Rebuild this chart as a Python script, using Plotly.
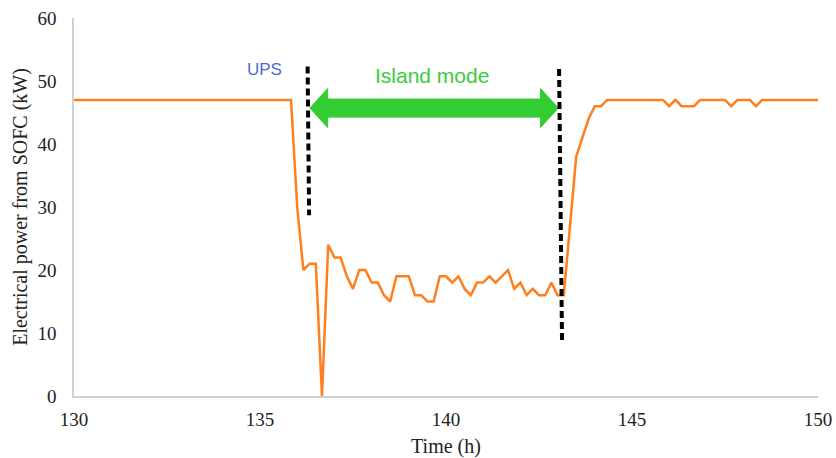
import plotly.graph_objects as go

# Time sampled every 10 minutes from 130 h to 150 h
time_start = 130.0
step_h = 1.0 / 6.0

# Electrical power from SOFC (kW), one value per 10-minute sample
power_kw = [
    47, 47, 47, 47, 47, 47, 47, 47, 47, 47,   # 130.0 - 131.5
    47, 47, 47, 47, 47, 47, 47, 47, 47, 47,   # 131.67 - 133.17
    47, 47, 47, 47, 47, 47, 47, 47, 47, 47,   # 133.33 - 134.83
    47, 47, 47, 47, 47, 47, 30, 20, 21, 21,   # 135.0 - 136.5
    0, 24, 22, 22, 19, 17, 20, 20, 18, 18,    # 136.67 - 138.17
    16, 15, 19, 19, 19, 16, 16, 15, 15, 19,   # 138.33 - 139.83
    19, 18, 19, 17, 16, 18, 18, 19, 18, 19,   # 140.0 - 141.5
    20, 17, 18, 16, 17, 16, 16, 18, 16, 16,   # 141.67 - 143.17
    27, 38, 41, 44, 46, 46, 47, 47, 47, 47,   # 143.33 - 144.83
    47, 47, 47, 47, 47, 47, 46, 47, 46, 46,   # 145.0 - 146.5
    46, 47, 47, 47, 47, 47, 46, 47, 47, 47,   # 146.67 - 148.17
    46, 47, 47, 47, 47, 47, 47, 47, 47, 47,   # 148.33 - 149.83
    47,                                       # 150.0
]
time_h = [time_start + i * step_h for i in range(len(power_kw))]

x_ticks = [130, 135, 140, 145, 150]
y_ticks = [0, 10, 20, 30, 40, 50, 60]

# Annotation anchors (data units)
ups_label = ("UPS", 135.13, 51.9)
island_label = ("Island mode", 139.62, 50.9)
arrow_x = (136.34, 143.02)
arrow_y = 45.7
marker_lines = [((136.28, 52.3), (136.32, 28.7)), ((143.04, 51.9), (143.12, 8.4))]

fig = go.Figure()
fig.add_trace(go.Scatter(
    x=time_h, y=power_kw, mode="lines",
    line=dict(color="#FF7F1E", width=2.5),
    showlegend=False, hoverinfo="skip",
))

# Green double-headed arrow as a filled path
x0, x1 = arrow_x
hl = 0.48      # head length (h)
hh = 3.1       # head half-height (kW)
sh = 1.43      # shaft half-height (kW)
y = arrow_y
path = (f"M {x0},{y} L {x0+hl},{y+hh} L {x0+hl},{y+sh} L {x1-hl},{y+sh} "
        f"L {x1-hl},{y+hh} L {x1},{y} L {x1-hl},{y-hh} L {x1-hl},{y-sh} "
        f"L {x0+hl},{y-sh} L {x0+hl},{y-hh} Z")
fig.add_shape(type="path", path=path, xref="x", yref="y",
              fillcolor="#33CC33", line=dict(color="#33CC33", width=1))

for (xa, ya), (xb, yb) in marker_lines:
    fig.add_shape(type="line", x0=xa, y0=ya, x1=xb, y1=yb, xref="x", yref="y",
                  line=dict(color="black", width=4, dash="7px,4px"))

fig.add_annotation(x=ups_label[1], y=ups_label[2], xref="x", yref="y",
                   text=ups_label[0], showarrow=False,
                   font=dict(family="Liberation Sans, Arial", size=17, color="#4A6BD2"))
fig.add_annotation(x=island_label[1], y=island_label[2], xref="x", yref="y",
                   text=island_label[0], showarrow=False,
                   font=dict(family="Liberation Sans, Arial", size=21, color="#3CCB3C"))

serif = "Liberation Serif"
tickfont = dict(family=serif, size=19, color="#222222")
titlefont = dict(family=serif, size=20, color="#222222")
fig.update_layout(
    width=836, height=458,
    margin=dict(l=74, r=18, t=18, b=62, autoexpand=False),
    paper_bgcolor="white", plot_bgcolor="white",
    font=dict(family=serif, size=19, color="#222222"),
    xaxis=dict(range=[130, 150], tickvals=x_ticks, showgrid=False, zeroline=False,
               showline=True, linecolor="#D0D0D0", linewidth=1.5, ticks="",
               ticklabelstandoff=5, tickfont=tickfont, automargin=False,
               title=dict(text="Time (h)", font=titlefont, standoff=14)),
    yaxis=dict(range=[0, 60], tickvals=y_ticks, showgrid=False, zeroline=False,
               showline=True, linecolor="#D0D0D0", linewidth=1.5, ticks="",
               ticklabelstandoff=12, tickfont=tickfont, automargin=False,
               title=dict(text="Electrical power from SOFC (kW)",
                          font=titlefont, standoff=4)),
)

fig.write_html("out.html", config={"displayModeBar": False},
               post_script="document.body.style.margin='0';")
